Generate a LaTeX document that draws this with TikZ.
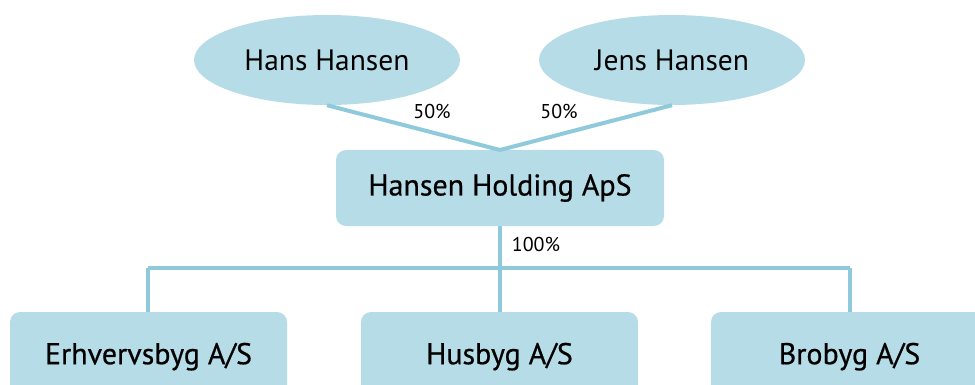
\documentclass[tikz,border=0pt]{standalone}
\usepackage{fontspec}
\setmainfont{PT Sans}
\newfontfamily\compfont[FakeBold=0.6]{PT Sans}
\usetikzlibrary{shapes.geometric}
\definecolor{boxfill}{HTML}{B6DDE7}
\definecolor{linecol}{HTML}{8ECADB}
\begin{document}
\begin{tikzpicture}[x=1pt,y=-1pt,
  person/.style={ellipse,fill=boxfill,minimum width=266pt,minimum height=90pt,inner sep=0pt,font=\fontsize{29.5}{32}\selectfont},
  company/.style={rounded corners=10pt,fill=boxfill,minimum width=277pt,minimum height=76pt,inner sep=0pt,font=\compfont\fontsize{30}{32}\selectfont},
  conn/.style={draw=linecol,line width=4pt},
  pct/.style={font=\fontsize{20}{22}\selectfont,inner sep=0pt}]
\useasboundingbox (0,0) rectangle (975,385);
\node[person] (hans) at (327,60) {Hans Hansen};
\node[person] (jens) at (672,60) {Jens Hansen};
\node[company,minimum width=328pt] (hold) at (500,188) {Hansen Holding ApS};
\node[company,minimum height=90pt] (erh) at (148.5,357) {\raisebox{7pt}{Erhvervsbyg A/S}};
\node[company,minimum height=90pt] (hus) at (499.5,357) {\raisebox{7pt}{Husbyg A/S}};
\node[company,minimum height=90pt] (bro) at (849.5,357) {\raisebox{7pt}{Brobyg A/S}};
\coordinate (top) at (500,150);
\coordinate (hl) at (148,268);
\coordinate (hm) at (500,268);
\coordinate (hr) at (850,268);
\draw[conn] (hans.south) -- (top) -- (jens.south);
\draw[conn] (hold.south) -- (hm);
\draw[conn] (hl) -- (hr);
\draw[conn] (hl) -- (hl |- erh.north);
\draw[conn] (hm) -- (hm |- hus.north);
\draw[conn] (hr) -- (hr |- bro.north);
\node[pct] (p1) at (432,111) {50\%};
\node[pct] (p2) at (559,111) {50\%};
\node[pct] (p3) at (536,244) {100\%};
\end{tikzpicture}
\end{document}
